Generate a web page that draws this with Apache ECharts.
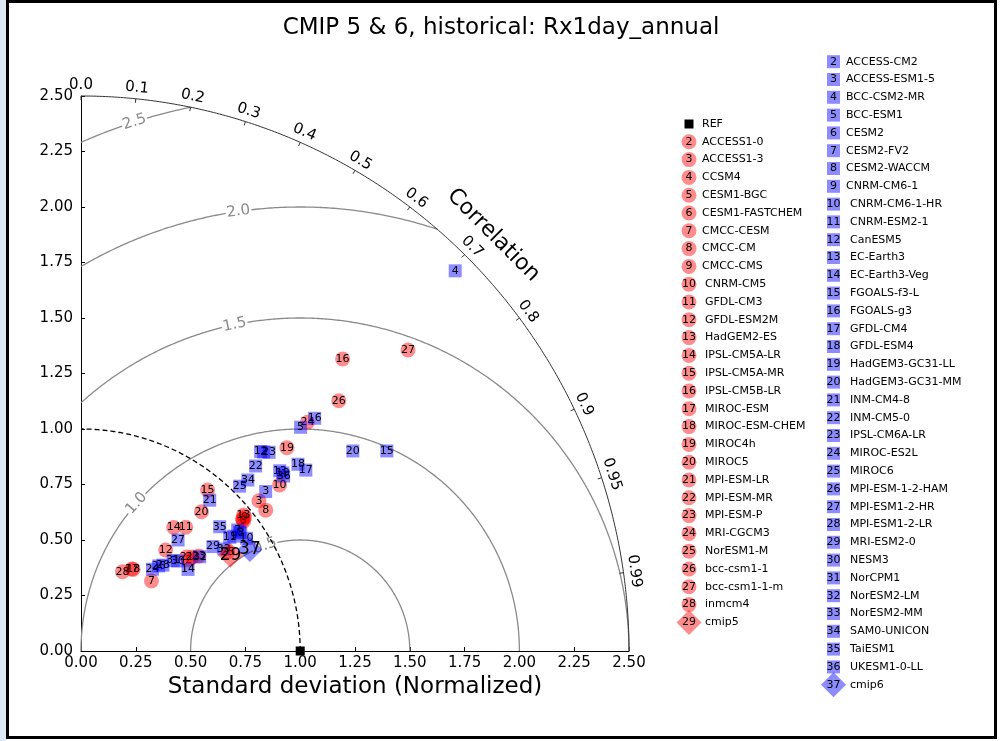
<!DOCTYPE html>
<html>
<head>
<meta charset="utf-8">
<script src="https://cdn.jsdelivr.net/npm/echarts@6/dist/echarts.min.js"></script>
<style>
  html, body { margin: 0; padding: 0; background: #fff; }
  #chart { width: 1002px; height: 741px; }
</style>
</head>
<body>
<div id="chart"></div>
<script>
// ---- Taylor diagram values: normalized standard deviation and correlation ----
const cmip5Names = ['ACCESS1-0','ACCESS1-3','CCSM4','CESM1-BGC','CESM1-FASTCHEM','CMCC-CESM','CMCC-CM','CMCC-CMS',
  'CNRM-CM5','GFDL-CM3','GFDL-ESM2M','HadGEM2-ES','IPSL-CM5A-LR','IPSL-CM5A-MR','IPSL-CM5B-LR','MIROC-ESM',
  'MIROC-ESM-CHEM','MIROC4h','MIROC5','MPI-ESM-LR','MPI-ESM-MR','MPI-ESM-P','MRI-CGCM3','NorESM1-M',
  'bcc-csm1-1','bcc-csm1-1-m','inmcm4'];
const cmip5Std = [0.640,1.057,0.948,0.946,0.945,0.450,1.055,0.960,1.175,0.734,0.597,0.962,0.699,0.927,1.776,
  0.436,0.438,1.312,0.834,0.642,0.662,0.687,1.459,0.804,1.629,2.016,0.404];
const cmip5Corr = [0.768,0.768,0.778,0.785,0.781,0.714,0.799,0.778,0.771,0.651,0.647,0.771,0.605,0.623,0.672,
  0.531,0.543,0.716,0.659,0.751,0.769,0.782,0.708,0.832,0.722,0.740,0.468];
const cmip5MeanName = 'cmip5';
const cmip5MeanStd = 0.807;
const cmip5MeanCorr = 0.845;

const cmip6Names = ['ACCESS-CM2','ACCESS-ESM1-5','BCC-CSM2-MR','BCC-ESM1','CESM2','CESM2-FV2','CESM2-WACCM',
  'CNRM-CM6-1','CNRM-CM6-1-HR','CNRM-ESM2-1','CanESM5','EC-Earth3','EC-Earth3-Veg','FGOALS-f3-L','FGOALS-g3',
  'GFDL-CM4','GFDL-ESM4','HadGEM3-GC31-LL','HadGEM3-GC31-MM','INM-CM4-8','INM-CM5-0','IPSL-CM6A-LR',
  'MIROC-ES2L','MIROC6','MPI-ESM-1-2-HAM','MPI-ESM1-2-HR','MPI-ESM1-2-LR','MRI-ESM2-0','NESM3','NorCPM1',
  'NorESM2-LM','NorESM2-MM','SAM0-UNICON','TaiESM1','UKESM1-0-LL'];
const cmip6Std = [1.224,1.107,2.418,1.421,0.900,0.899,0.902,0.868,0.910,0.850,1.216,1.217,0.611,1.661,1.495,
  1.310,1.299,1.221,1.533,0.898,1.153,1.240,0.492,1.037,0.522,0.668,0.538,0.764,0.599,0.585,0.688,0.797,
  1.083,0.845,1.215];
const cmip6Corr = [0.681,0.761,0.706,0.705,0.804,0.795,0.808,0.803,0.830,0.798,0.674,0.745,0.799,0.840,0.713,
  0.783,0.762,0.754,0.809,0.654,0.691,0.692,0.663,0.698,0.679,0.663,0.695,0.788,0.736,0.718,0.787,0.817,
  0.703,0.749,0.761];
const cmip6MeanName = 'cmip6';
const cmip6MeanStd = 0.896;
const cmip6MeanCorr = 0.860;

const refName = 'REF';
const refStd = 1.0;
const refCorr = 1.0;

const stdMax = 2.5;
const stdTickStep = 0.25;
const corrTicks = [0.0, 0.1, 0.2, 0.3, 0.4, 0.5, 0.6, 0.7, 0.8, 0.9, 0.95, 0.99];
const rmsLevels = [0.5, 1.0, 1.5, 2.0, 2.5];

// ---- styling ----
const FONT = '"DejaVu Sans", sans-serif';
const RED = 'rgba(255,0,0,0.45)';
const BLUE = 'rgba(0,0,255,0.45)';
const GREY = '#8a8a8a';
// angle (deg, around the reference point) where each RMS contour carries its label
const rmsLabelAngle = { 0.5: 108.8, 1.0: 138.3, 1.5: 101.5, 2.0: 98.1, 2.5: 107.6 };

function toXY(std, corr) {
  return [std * corr, std * Math.sqrt(Math.max(0, 1 - corr * corr))];
}
function pointData(stds, corrs, firstNumber) {
  return stds.map((s, i) => {
    const xy = toXY(s, corrs[i]);
    return [xy[0], xy[1], firstNumber + i];
  });
}

const cmip5Data = pointData(cmip5Std, cmip5Corr, 2);
const cmip6Data = pointData(cmip6Std, cmip6Corr, 2);
const refData = [toXY(refStd, refCorr).concat([1])];
const cmip5MeanData = [toXY(cmip5MeanStd, cmip5MeanCorr).concat([cmip5Names.length + 2])];
const cmip6MeanData = [toXY(cmip6MeanStd, cmip6MeanCorr).concat([cmip6Names.length + 2])];

function markerShape(kind, cx, cy, color, size, z2) {
  const h = size / 2;
  if (kind === 'circle') {
    return { type: 'circle', z2, shape: { cx, cy, r: h }, style: { fill: color } };
  }
  if (kind === 'square') {
    return { type: 'rect', z2, shape: { x: cx - h, y: cy - h, width: size, height: size }, style: { fill: color } };
  }
  return { type: 'polygon', z2, shape: { points: [[cx, cy - h], [cx + h, cy], [cx, cy + h], [cx - h, cy]] },
    style: { fill: color } };
}
function textEl(text, x, y, font, fill, align, rotation, z2) {
  return { type: 'text', x, y, rotation: rotation || 0, z2: z2 || 0,
    style: { text, font, fill, align, verticalAlign: 'middle', textAlign: align, textVerticalAlign: 'middle' } };
}

function markerSeries(name, data, kind, color, size, fontSize, z, showText) {
  return {
    type: 'custom', name, coordinateSystem: 'cartesian2d', z, silent: true, clip: false,
    encode: { x: 0, y: 1 },
    data,
    renderItem(params, api) {
      const p = api.coord([api.value(0), api.value(1)]);
      const k = params.dataIndex;
      const children = [markerShape(kind, p[0], p[1], color, size, k * 2)];
      if (showText) {
        children.push(textEl(String(api.value(2)), p[0], p[1], fontSize + 'px ' + FONT, '#000', 'center', 0, k * 2 + 1));
      }
      return { type: 'group', children };
    }
  };
}

// Polar frame of the diagram: outer std arc, correlation ticks, RMS contours, reference arc
function frameSeries() {
  return {
    type: 'custom', name: 'frame', coordinateSystem: 'cartesian2d', z: 1, silent: true, clip: false,
    encode: { x: 0, y: 1 },
    data: [[0, 0]],
    renderItem(params, api) {
      const els = [];
      const arc = (cx, cy, r, a0, a1, style) => {
        const n = Math.max(8, Math.ceil(Math.abs(a1 - a0) * 180));
        const pts = [];
        for (let i = 0; i <= n; i++) {
          const a = a0 + (a1 - a0) * i / n;
          pts.push(api.coord([cx + r * Math.cos(a), cy + r * Math.sin(a)]));
        }
        els.push({ type: 'polyline', shape: { points: pts }, style: Object.assign({ fill: null }, style) });
      };
      // RMS difference contours around the reference point
      rmsLevels.forEach(R => {
        const cIn = (stdMax * stdMax - 1 - R * R) / (2 * R);
        const aMin = cIn >= 1 ? 0 : Math.acos(cIn);
        const aMax = R <= 1 ? Math.PI : Math.acos(-1 / R);
        const aL = rmsLabelAngle[R] * Math.PI / 180;
        const gap = 13 / (220 * R);
        const st = { stroke: GREY, lineWidth: 1.3 };
        arc(1, 0, R, aMin, aL - gap, st);
        arc(1, 0, R, aL + gap, aMax, st);
        const lp = api.coord([1 + R * Math.cos(aL), R * Math.sin(aL)]);
        els.push(textEl(R.toFixed(1), lp[0], lp[1], '15px ' + FONT, GREY, 'center', aL - Math.PI / 2));
      });
      // reference standard deviation arc
      arc(0, 0, refStd, 0, Math.PI / 2, { stroke: '#000', lineWidth: 1.3, lineDash: [5, 3] });
      // outer arc
      arc(0, 0, stdMax, 0, Math.PI / 2, { stroke: '#333', lineWidth: 1 });
      // correlation ticks and labels
      corrTicks.forEach(c => {
        const t = Math.acos(c);
        const p = api.coord([stdMax * Math.cos(t), stdMax * Math.sin(t)]);
        const dx = Math.cos(t), dy = -Math.sin(t);
        els.push({ type: 'line', shape: { x1: p[0], y1: p[1], x2: p[0] - dx * 4, y2: p[1] - dy * 4 },
          style: { stroke: '#333', lineWidth: 1 } });
        const label = c === 0.95 || c === 0.99 ? c.toFixed(2) : c.toFixed(1);
        els.push(textEl(label, p[0] + dx * 11, p[1] + dy * 11, '15px ' + FONT, '#000', 'center', t - Math.PI / 2));
      });
      // axis title along the arc
      const tc = 44.9 * Math.PI / 180;
      const pc = api.coord([stdMax * Math.cos(tc), stdMax * Math.sin(tc)]);
      els.push(textEl('Correlation', pc[0] + Math.cos(tc) * 34, pc[1] - Math.sin(tc) * 34,
        '22px ' + FONT, '#000', 'center', tc - Math.PI / 2));
      return { type: 'group', children: els };
    }
  };
}

// Legend blocks (two columns)
function legendGraphics() {
  const els = [];
  const step = 17.8;
  const addRow = (kind, color, size, num, name, mx, y, nameX) => {
    els.push(markerShape(kind, mx, y, color, size, 0));
    if (num !== null) els.push(textEl(String(num), mx, y, '11px ' + FONT, '#000', 'center', 0, 1));
    els.push(textEl(name, nameX, y, '11px ' + FONT, '#000', 'left', 0, 1));
  };
  // CMIP5 column
  let y = 124;
  addRow('square', '#000', 9, null, refName, 689, y, 702);
  cmip5Names.forEach((n, i) => {
    y += step;
    const num = i + 2;
    addRow('circle', RED, 15, num, n, 689, y, num < 10 ? 702 : 705);
  });
  y += step;
  addRow('diamond', RED, 25, cmip5Names.length + 2, cmip5MeanName, 689, y, 705);
  // CMIP6 column
  y = 61.7;
  cmip6Names.forEach((n, i) => {
    if (i > 0) y += step;
    const num = i + 2;
    addRow('square', BLUE, 13, num, n, 833.5, y, num < 10 ? 846 : 850);
  });
  y += step;
  addRow('diamond', BLUE, 25, cmip6Names.length + 2, cmip6MeanName, 833.5, y, 850);
  return { type: 'group', children: els };
}

const chart = echarts.init(document.getElementById('chart'), null, { renderer: 'canvas' });

const axisCommon = {
  type: 'value', min: 0, max: stdMax, interval: stdTickStep,
  splitLine: { show: false },
  axisLine: { onZero: false, lineStyle: { color: '#000', width: 1 } },
  axisTick: { inside: true, length: 4, lineStyle: { color: '#000' } },
  axisLabel: { formatter: v => v.toFixed(2), fontSize: 15, color: '#000', fontFamily: FONT }
};

chart.setOption({
  backgroundColor: '#fff',
  animation: false,
  title: {
    text: 'CMIP 5 & 6, historical: Rx1day_annual',
    left: 'center', top: 12,
    textStyle: { fontSize: 23, fontWeight: 'normal', color: '#000', fontFamily: FONT }
  },
  grid: { left: 81, right: 373, top: 96, bottom: 90, containLabel: false },
  xAxis: Object.assign({}, axisCommon, {
    axisLabel: Object.assign({}, axisCommon.axisLabel, { margin: 5 }),
    name: 'Standard deviation (Normalized)', nameLocation: 'middle', nameGap: 24,
    nameTextStyle: { fontSize: 23, color: '#000', fontFamily: FONT }
  }),
  yAxis: Object.assign({}, axisCommon, {
    axisLabel: Object.assign({}, axisCommon.axisLabel, { margin: 8 })
  }),
  series: [
    frameSeries(),
    markerSeries('CMIP5', cmip5Data, 'circle', RED, 15, 11, 3, true),
    markerSeries('CMIP6', cmip6Data, 'square', BLUE, 13, 11, 4, true),
    markerSeries('REF', refData, 'square', '#000', 9, 11, 5, false),
    markerSeries('cmip5 mean', cmip5MeanData, 'diamond', RED, 25, 17, 6, true),
    markerSeries('cmip6 mean', cmip6MeanData, 'diamond', BLUE, 25, 17, 7, true)
  ],
  graphic: [
    legendGraphics(),
    { type: 'rect', silent: true, z: 100, shape: { x: 0, y: 0, width: 6, height: 741 }, style: { fill: '#dce8f4' } },
    { type: 'rect', silent: true, z: 100, shape: { x: 7.5, y: 1.5, width: 988, height: 736 },
      style: { fill: null, stroke: '#000', lineWidth: 3 } }
  ]
});
</script>
</body>
</html>
